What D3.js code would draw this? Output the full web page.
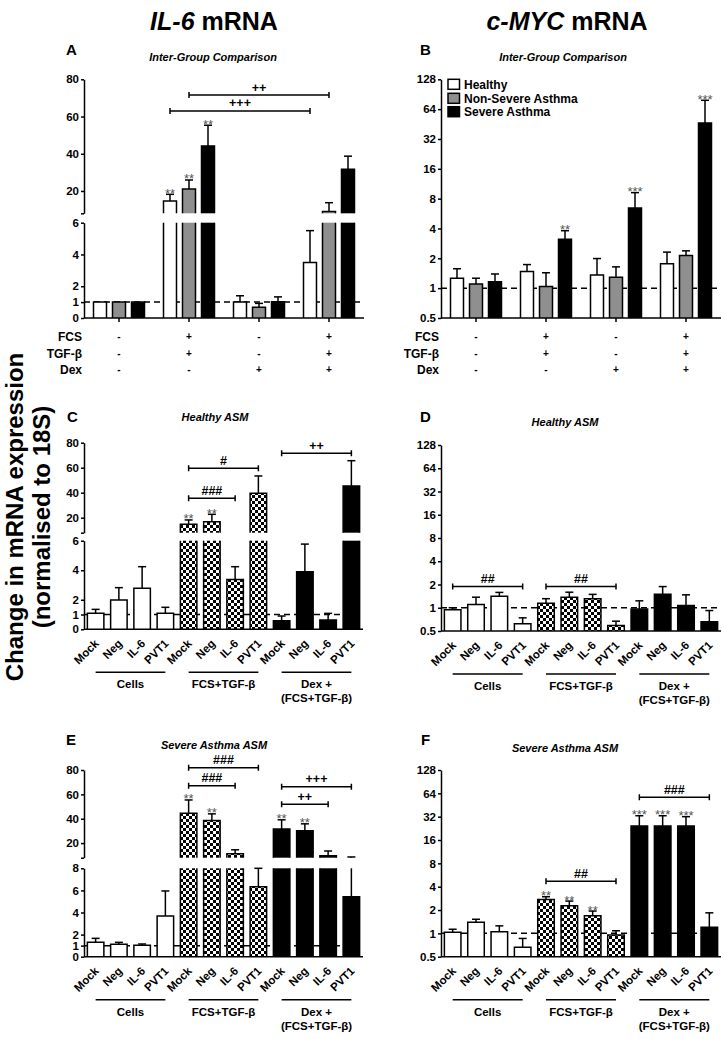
<!DOCTYPE html>
<html><head><meta charset="utf-8">
<script src="https://cdn.jsdelivr.net/npm/d3@7"></script>
<style>body{margin:0;background:#fff} svg{display:block}</style>
</head><body><svg id="c" width="724" height="1039"></svg>
<script>
// ---------------- DATA ----------------
const series = ["Healthy", "Non-Severe Asthma", "Severe Asthma"];
const conditionsAB = ["Control", "FCS+TGF-β", "Dex", "Dex+FCS+TGF-β"];
const rowLabels = ["FCS", "TGF-β", "Dex"];
const fcsSigns = ["-", "+", "-", "+"];
const tgfSigns = ["-", "+", "-", "+"];
const dexSigns = ["-", "-", "+", "+"];

// Panel A: IL-6 mRNA, inter-group
const il6Healthy = [1.0, 14.6, 1.0, 3.5];
const il6HealthySem = [0, 3.6, 0.4, 2.0];
const il6HealthyStars = ["", "**", "", ""];
const il6NonSevere = [1.0, 21.0, 0.68, 9.0];
const il6NonSevereSem = [0, 4.9, 0.24, 4.7];
const il6NonSevereStars = ["", "**", "", ""];
const il6Severe = [1.0, 44.2, 1.03, 31.7];
const il6SevereSem = [0, 11.1, 0.3, 7.0];
const il6SevereStars = ["", "**", "", ""];

// Panel B: c-MYC mRNA, inter-group
const mycHealthy = [1.26, 1.47, 1.36, 1.76];
const mycHealthySem = [0.31, 0.26, 0.63, 0.55];
const mycHealthyStars = ["", "", "", ""];
const mycNonSevere = [1.1, 1.04, 1.29, 2.13];
const mycNonSevereSem = [0.16, 0.39, 0.35, 0.25];
const mycNonSevereStars = ["", "", "", ""];
const mycSevere = [1.16, 3.12, 6.43, 46.4];
const mycSevereSem = [0.23, 0.68, 2.77, 32.2];
const mycSevereStars = ["", "**", "***", "***"];

// siRNA panels
const siRNA = ["Mock", "Neg", "IL-6", "PVT1"];
const treatments = [["Cells"], ["FCS+TGF-β"], ["Dex +", "(FCS+TGF-β)"]];

// Panel C: IL-6, healthy ASM
const il6HealthyAsm = [1.08, 1.98, 2.78, 1.08, 14.7, 16.8, 3.38, 39.5, 0.58, 3.9, 0.63, 45.4];
const il6HealthyAsmSem = [0.27, 0.84, 1.46, 0.41, 3.5, 5.9, 0.86, 13.9, 0.32, 1.87, 0.45, 20.2];
const il6HealthyAsmStars = ["", "", "", "", "**", "**", "", "", "", "", "", ""];
// Panel D: c-MYC, healthy ASM
const mycHealthyAsm = [0.94, 1.1, 1.41, 0.62, 1.14, 1.37, 1.31, 0.59, 0.96, 1.49, 1.07, 0.66];
const mycHealthyAsmSem = [0.06, 0.27, 0.17, 0.12, 0.17, 0.22, 0.18, 0.08, 0.27, 0.39, 0.4, 0.26];
const mycHealthyAsmStars = ["", "", "", "", "", "", "", "", "", "", "", ""];
// Panel E: IL-6, severe asthma ASM
const il6SevereAsm = [1.3, 1.12, 1.03, 3.68, 44.5, 38.5, 11.2, 6.33, 31.5, 30.1, 9.6, 5.43];
const il6SevereAsmSem = [0.36, 0.18, 0.12, 2.27, 10.9, 5.5, 3.3, 1.67, 7.6, 5.7, 3.9, 3.17];
const il6SevereAsmStars = ["", "", "", "", "**", "**", "", "", "**", "**", "", ""];
// Panel F: c-MYC, severe asthma ASM
const mycSevereAsm = [1.03, 1.39, 1.05, 0.66, 2.74, 2.27, 1.69, 0.95, 24.2, 24.2, 24.2, 1.2];
const mycSevereAsmSem = [0.1, 0.13, 0.2, 0.2, 0.23, 0.34, 0.25, 0.13, 8.7, 8.7, 7.8, 0.64];
const mycSevereAsmStars = ["", "", "", "", "**", "**", "**", "", "***", "***", "***", ""];

// significance brackets: [from, to, level (data units), label]
const bracketsA = [[[1, 0], [3, 0], 63, "+++"], [[1, 1], [3, 1], 71.5, "++"]];
const bracketsC = [[4, 7, 59.5, "#"], [4, 6, 35.5, "###"], [8, 11, 71.5, "++"]];
const bracketsD = [[0, 3, 1.88, "##"], [4, 7, 1.88, "##"]];
const bracketsE = [[4, 7, 81.9, "###"], [4, 6, 67.1, "###"], [8, 11, 66.3, "+++"], [8, 10, 51.9, "++"]];
const bracketsF = [[4, 7, 4.69, "##"], [8, 11, 56.8, "###"]];

const linTicksLow6 = [0, 1, 2, 4, 6];
const linTicksLow8 = [0, 1, 2, 4, 6, 8];
const linTicksUp = [8, 20, 40, 60, 80];
const logTicks = [0.5, 1, 2, 4, 8, 16, 32, 64, 128];

// ---------------- DRAWING ----------------
const FONT = '"Liberation Sans", Arial, Helvetica, sans-serif';
const svg = d3.select("#c");
svg.append("rect").attr("width", 724).attr("height", 1039).attr("fill", "#fff");
const defs = svg.append("defs");
const pat = defs.append("pattern").attr("id", "chk").attr("patternUnits", "userSpaceOnUse").attr("width", 6).attr("height", 6);
pat.append("rect").attr("width", 6).attr("height", 6).attr("fill", "#000");
pat.append("rect").attr("width", 3).attr("height", 3).attr("fill", "#fff");
pat.append("rect").attr("x", 3).attr("y", 3).attr("width", 3).attr("height", 3).attr("fill", "#fff");

const seriesFill = ["#fff", "#8f8f8f", "#000"];
const treatFill = ["#fff", "url(#chk)", "#000"];

function text(g, x, y, s, size, o = {}) {
  return g.append("text").attr("x", x).attr("y", y).text(s)
    .attr("font-family", FONT).attr("font-size", size)
    .attr("font-weight", o.weight || "bold").attr("font-style", o.style || "normal")
    .attr("text-anchor", o.anchor || "middle").attr("fill", o.fill || "#000");
}

function yOf(Y, v) {
  if (Y.log) return Y.s(v);
  if (v <= Y.lowMax) return Y.low(v);
  if (v >= Y.upMin) return Y.up(v);
  return Y.low(Y.lowMax);
}
function stroke(sel, w = 1.5) { return sel.attr("stroke", "#000").attr("stroke-width", w).attr("fill", "none"); }

function styleAxis(a) {
  a.attr("font-family", FONT).attr("font-size", 11.5).attr("font-weight", "bold");
  a.select(".domain").attr("stroke", "#000").attr("stroke-width", 1.5);
  a.selectAll(".tick line").attr("stroke", "#000").attr("stroke-width", 1.5);
  a.selectAll(".tick text").attr("fill", "#000");
}

function drawPanel(g, P) {
  const { Y, xr, bars } = P;
  const y0 = Y.log ? Y.s(Y.s.domain()[0]) : Y.low(0);
  // reference line at 1
  stroke(g.append("line").attr("x1", xr[0]).attr("x2", xr[1]).attr("y1", yOf(Y, 1)).attr("y2", yOf(Y, 1)))
    .attr("stroke-dasharray", "6,4");
  bars.forEach(b => {
    const xl = b.cx - b.w / 2, xh = b.cx + b.w / 2;
    const pieces = [];
    if (Y.log) pieces.push({ a: y0, b: Y.s(b.v), openTop: false });
    else {
      pieces.push({ a: y0, b: Y.low(Math.min(b.v, Y.lowMax)), openTop: b.v > Y.lowMax });
      if (b.v > Y.upMin) pieces.push({ a: Y.up(Y.upMin), b: Y.up(b.v), openTop: false });
    }
    pieces.forEach(p => {
      g.append("rect").attr("x", xl).attr("y", p.b).attr("width", b.w).attr("height", p.a - p.b).attr("fill", b.fill);
      const d = `M${xl},${p.a}V${p.b}` + (p.openTop ? `M${xh},${p.b}` : `H${xh}`) + `V${p.a}`;
      stroke(g.append("path").attr("d", d));
    });
    const e = b.v + b.sem;
    let ye = yOf(Y, b.v);
    if (b.sem > 0) {
      const segs = [];
      if (Y.log) segs.push([Y.s(b.v), Y.s(e)]);
      else {
        if (b.v < Y.lowMax) segs.push([Y.low(b.v), Y.low(Math.min(e, Y.lowMax))]);
        if (e > Y.upMin) segs.push([Y.up(Math.max(b.v, Y.upMin)), Y.up(e)]);
      }
      segs.forEach(s => stroke(g.append("line").attr("x1", b.cx).attr("x2", b.cx).attr("y1", s[0]).attr("y2", s[1])));
      ye = yOf(Y, e);
      stroke(g.append("line").attr("x1", b.cx - 4).attr("x2", b.cx + 4).attr("y1", ye).attr("y2", ye));
    }
    if (b.star) text(g, b.cx, ye + 3.5, b.star, 13, { weight: "normal", fill: "#555" });
  });
  // brackets
  P.brackets.forEach(br => {
    const y = yOf(Y, br.level);
    stroke(g.append("path").attr("d", `M${br.xa},${y}H${br.xb}M${br.xa},${y - 3}V${y + 3}M${br.xb},${y - 3}V${y + 3}`));
    text(g, (br.xa + br.xb) / 2, y - 3.5, br.label, 12.5);
  });
  // y axis
  if (Y.log) {
    styleAxis(g.append("g").attr("transform", `translate(${xr[0]},0)`)
      .call(d3.axisLeft(Y.s).tickValues(logTicks).tickFormat(d => d).tickSize(3).tickSizeOuter(0).tickPadding(2)));
  } else {
    styleAxis(g.append("g").attr("transform", `translate(${xr[0]},0)`)
      .call(d3.axisLeft(Y.low).tickValues(P.lowTicks).tickFormat(d => d).tickSize(3).tickSizeOuter(0).tickPadding(2)));
    styleAxis(g.append("g").attr("transform", `translate(${xr[0]},0)`)
      .call(d3.axisLeft(Y.up).tickValues(linTicksUp).tickFormat(d => d === 8 ? "" : d).tickSize(3).tickSizeOuter(0).tickPadding(2)));
  }
  // x axis line
  stroke(g.append("line").attr("x1", xr[0]).attr("x2", xr[1]).attr("y1", y0).attr("y2", y0));
  return y0;
}

// ----- main titles -----
const titles = [[214, "IL-6", " mRNA"], [567, "c-MYC", " mRNA"]];
titles.forEach(t => {
  const tx = text(svg, t[0], 30, "", 25);
  tx.append("tspan").attr("font-style", "italic").text(t[1]);
  tx.append("tspan").text(t[2]);
});
// y axis title
text(svg, 0, 0, "Change in mRNA expression", 24).attr("transform", "translate(23,517) rotate(-90)");
text(svg, 0, 0, "(normalised to 18S)", 24).attr("transform", "translate(50,517) rotate(-90)");

// ----- grouped panels A and B -----
function groupedPanel(opts) {
  const g = svg.append("g");
  const x = d3.scaleBand().domain(conditionsAB).range(opts.xr);
  const xs = d3.scaleBand().domain(series).range([-28.5, 28.5]).paddingInner(0.316).paddingOuter(0.158);
  const bars = [];
  series.forEach((s, si) => {
    conditionsAB.forEach((c, ci) => {
      bars.push({ cx: x(c) + x.bandwidth() / 2 + xs(s) + xs.bandwidth() / 2, w: xs.bandwidth(),
        v: opts.vals[si][ci], sem: opts.sems[si][ci], star: opts.stars[si][ci], fill: seriesFill[si] });
    });
  });
  const bx = (ci, si) => x(conditionsAB[ci]) + x.bandwidth() / 2 + xs(series[si]) + xs.bandwidth() / 2;
  const brackets = opts.brackets.map(b => ({ xa: bx(b[0][0], b[0][1]), xb: bx(b[1][0], b[1][1]), level: b[2], label: b[3] }));
  const y0 = drawPanel(g, { Y: opts.Y, xr: opts.xr, bars, brackets, lowTicks: opts.lowTicks });
  // x ticks
  conditionsAB.forEach(c => {
    const cx = x(c) + x.bandwidth() / 2;
    stroke(g.append("line").attr("x1", cx).attr("x2", cx).attr("y1", y0).attr("y2", y0 + 4));
  });
  // factor rows
  const signs = [fcsSigns, tgfSigns, dexSigns];
  const rowY = [341, 357.5, 374];
  rowLabels.forEach((r, ri) => {
    text(g, opts.xr[0] - 2, rowY[ri], r, 12, { anchor: "end" });
    conditionsAB.forEach((c, ci) => text(g, x(c) + x.bandwidth() / 2, rowY[ri] - 1, signs[ri][ci], 10));
  });
  text(g, opts.labelX, 55, opts.letter, 15, { anchor: "start" });
  text(g, opts.titleX, 61, "Inter-Group Comparison", 11, { style: "italic" });
  return g;
}

groupedPanel({
  xr: [84, 364], letter: "A", labelX: 66, titleX: 213,
  Y: { low: d3.scaleLinear().domain([0, 6]).range([318, 222.7]), up: d3.scaleLinear().domain([8, 80]).range([213.3, 79.3]), lowMax: 6, upMin: 8 },
  lowTicks: linTicksLow6,
  vals: [il6Healthy, il6NonSevere, il6Severe], sems: [il6HealthySem, il6NonSevereSem, il6SevereSem],
  stars: [il6HealthyStars, il6NonSevereStars, il6SevereStars], brackets: bracketsA
});
const gB = groupedPanel({
  xr: [441, 721], letter: "B", labelX: 420, titleX: 563,
  Y: { log: true, s: d3.scaleLog().base(2).domain([0.5, 128]).range([318, 79.3]) },
  vals: [mycHealthy, mycNonSevere, mycSevere], sems: [mycHealthySem, mycNonSevereSem, mycSevereSem],
  stars: [mycHealthyStars, mycNonSevereStars, mycSevereStars], brackets: []
});
// legend in B
series.forEach((s, i) => {
  const ly = [79.3, 93.3, 106.7][i];
  gB.append("rect").attr("x", 448).attr("y", ly).attr("width", 11.5).attr("height", 10).attr("fill", seriesFill[i])
    .attr("stroke", "#000").attr("stroke-width", 1.5);
  text(gB, 464, ly + 9.5, s, 12, { anchor: "start" });
});

// ----- siRNA panels C-F -----
function siPanel(opts) {
  const g = svg.append("g");
  const idx = d3.range(12);
  const x = d3.scaleBand().domain(idx).range(opts.xr).paddingInner(0.29).paddingOuter(0.145);
  const cx = i => x(i) + x.bandwidth() / 2;
  const bars = idx.map(i => ({ cx: cx(i), w: x.bandwidth(), v: opts.vals[i], sem: opts.sems[i], star: opts.stars[i], fill: treatFill[Math.floor(i / 4)] }));
  const brackets = opts.brackets.map(b => ({ xa: cx(b[0]), xb: cx(b[1]), level: b[2], label: b[3] }));
  const y0 = drawPanel(g, { Y: opts.Y, xr: opts.xr, bars, brackets, lowTicks: opts.lowTicks });
  idx.forEach(i => {
    text(g, 0, 0, siRNA[i % 4], 11.5, { anchor: "end" }).attr("transform", `translate(${cx(i) + 4},${y0 + 15}) rotate(-45)`);
  });
  treatments.forEach((t, k) => {
    const a = cx(4 * k), b = cx(4 * k + 3);
    stroke(g.append("line").attr("x1", a).attr("x2", b).attr("y1", y0 + 43).attr("y2", y0 + 43));
    t.forEach((line, li) => text(g, (a + b) / 2, y0 + 59 + li * 14, line, 11.5));
  });
  text(g, opts.labelX, opts.labelY, opts.letter, 15, { anchor: "start" });
  text(g, opts.titleX, opts.titleY, opts.title, 11, { style: "italic" });
}

siPanel({
  xr: [84, 363], letter: "C", labelX: 67, labelY: 421.5, title: "Healthy ASM", titleX: 215, titleY: 421,
  Y: { low: d3.scaleLinear().domain([0, 6]).range([629.3, 540.7]), up: d3.scaleLinear().domain([8, 80]).range([532.7, 442.7]), lowMax: 6, upMin: 8 },
  lowTicks: linTicksLow6, vals: il6HealthyAsm, sems: il6HealthyAsmSem, stars: il6HealthyAsmStars, brackets: bracketsC
});
siPanel({
  xr: [441, 721], letter: "D", labelX: 420, labelY: 421.5, title: "Healthy ASM", titleX: 565, titleY: 426,
  Y: { log: true, s: d3.scaleLog().base(2).domain([0.5, 128]).range([631, 445]) },
  vals: mycHealthyAsm, sems: mycHealthyAsmSem, stars: mycHealthyAsmStars, brackets: bracketsD
});
siPanel({
  xr: [84, 363], letter: "E", labelX: 66, labelY: 745, title: "Severe Asthma ASM", titleX: 214, titleY: 749,
  Y: { low: d3.scaleLinear().domain([0, 8]).range([956.7, 868.3]), up: d3.scaleLinear().domain([8, 80]).range([857.7, 770]), lowMax: 8, upMin: 8 },
  lowTicks: linTicksLow8, vals: il6SevereAsm, sems: il6SevereAsmSem, stars: il6SevereAsmStars, brackets: bracketsE
});
siPanel({
  xr: [441, 721], letter: "F", labelX: 421, labelY: 745, title: "Severe Asthma ASM", titleX: 565, titleY: 752,
  Y: { log: true, s: d3.scaleLog().base(2).domain([0.5, 128]).range([956.7, 770]) },
  vals: mycSevereAsm, sems: mycSevereAsmSem, stars: mycSevereAsmStars, brackets: bracketsF
});
</script></body></html>
